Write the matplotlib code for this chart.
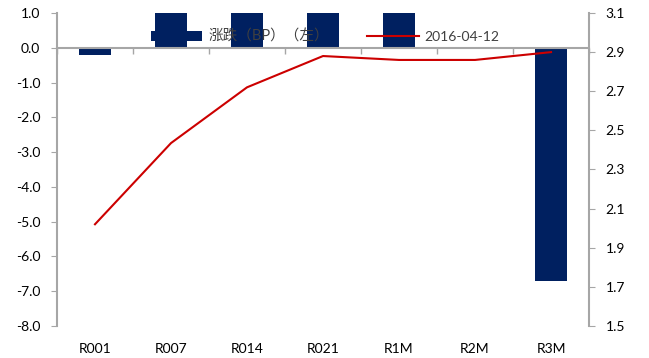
import matplotlib
matplotlib.use("Agg")
import matplotlib.pyplot as plt
import matplotlib.transforms as mtransforms
import numpy as np

plt.rcParams['font.family'] = ['Lato', 'Noto Sans CJK SC', 'DejaVu Sans']

categories = ["R001", "R007", "R014", "R021", "R1M", "R2M", "R3M"]
change_bp = [-0.2, 1.5, 1.5, 1.5, 1.5, 0.0, -6.7]
rate_0412 = [2.02, 2.435, 2.72, 2.88, 2.86, 2.86, 2.90]

left_ticks = [1.0, 0.0, -1.0, -2.0, -3.0, -4.0, -5.0, -6.0, -7.0, -8.0]
right_ticks = [3.1, 2.9, 2.7, 2.5, 2.3, 2.1, 1.9, 1.7, 1.5]

bar_color = "#002060"
line_color = "#CC0000"
axis_gray = "#A6A6A6"

fig = plt.figure(figsize=(6.49, 3.58), dpi=100)
ax = fig.add_axes([0.0878, 0.0894, 0.8198, 0.8743])
ax2 = ax.twinx()

x = np.arange(len(categories))
bars = ax.bar(x, change_bp, width=0.42, color=bar_color, label="涨跌（BP）（左）", zorder=2)
ax.set_xlim(-0.5, len(categories) - 0.5)
ax.set_ylim(-8.0, 1.0)
ax.set_yticks(left_ticks)
ax.set_yticklabels(["%.1f" % v for v in left_ticks])

line, = ax2.plot(x, rate_0412, color=line_color, linewidth=1.5, label="2016-04-12")
ax2.set_ylim(1.5, 3.1)
ax2.set_yticks(right_ticks)
ax2.set_yticklabels(["%.1f" % v for v in right_ticks])

# zero line acts as the category axis, with ticks between categories
ax.spines['bottom'].set_position(('data', 0))
ax.set_xticks(np.arange(len(categories) + 1) - 0.5)
ax.set_xticklabels([])
ax.tick_params(axis='x', direction='out', length=4, color=axis_gray, width=1)

trans = mtransforms.blended_transform_factory(ax.transData, ax.transAxes)
for i, name in enumerate(categories):
    ax.text(i, -0.075, name, transform=trans, ha='center', va='center', fontsize=10)

for a in (ax, ax2):
    a.spines['top'].set_visible(False)
    for side in ('left', 'right', 'bottom'):
        a.spines[side].set_color(axis_gray)
        a.spines[side].set_linewidth(1.5)
ax.spines['right'].set_visible(False)
ax2.spines['left'].set_visible(False)
ax2.spines['bottom'].set_visible(False)

ax.tick_params(axis='y', direction='out', length=4, color=axis_gray, labelsize=10, pad=8)
ax2.tick_params(axis='y', direction='out', length=4, color=axis_gray, labelsize=10, pad=8)

leg = fig.legend(handles=[bars, line], loc='center left', bbox_to_anchor=(0.2133, 0.897), ncol=2,
                 frameon=False, fontsize=10, handlelength=3.7, handleheight=0.8,
                 columnspacing=2.75, handletextpad=0.43)
for t in leg.get_texts():
    t.set_color("#404040")
leg.get_texts()[0].set_fontsize(10.5)

fig.savefig("out.png", dpi=100)
